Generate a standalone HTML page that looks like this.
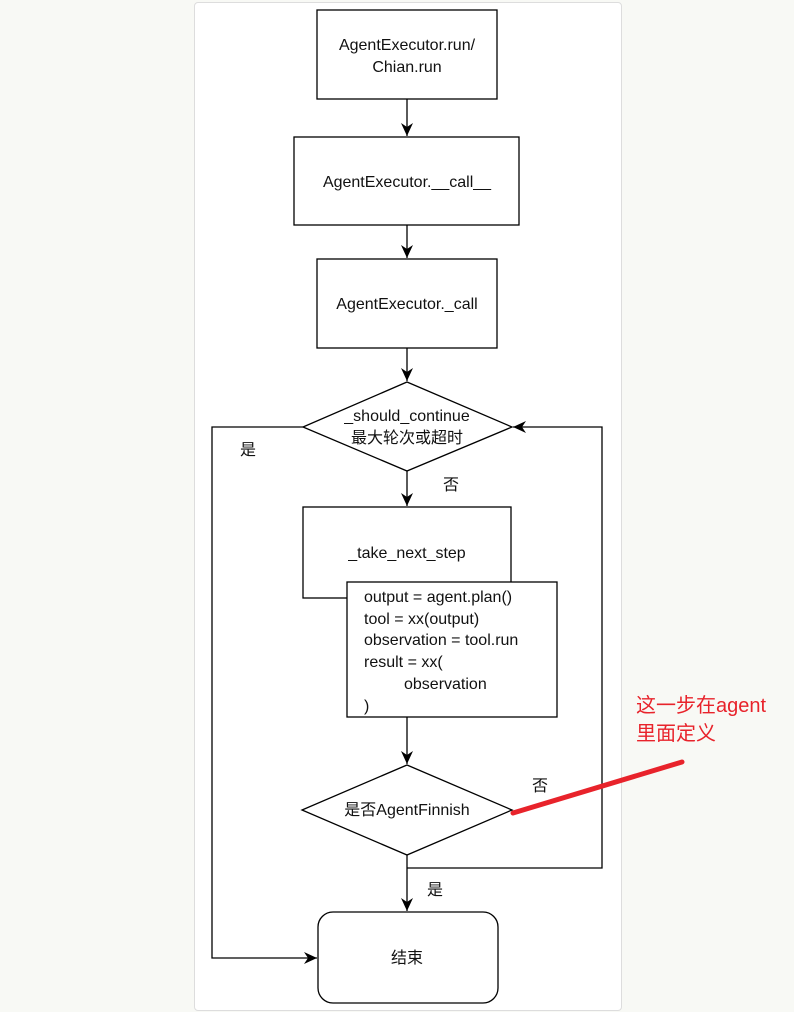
<!DOCTYPE html>
<html><head><meta charset="utf-8"><style>
body{margin:0;width:794px;height:1012px;background:#f8f9f5;overflow:hidden;font-family:"Liberation Sans","Noto Sans CJK SC",sans-serif;}
.card{position:absolute;left:194px;top:2px;width:426px;height:1007px;background:#fff;border:1px solid #ddd;border-radius:4px;}
svg{position:absolute;left:0;top:0}
</style></head><body>
<div class="card"></div>
<svg width="794" height="1012" font-family="Liberation Sans, Noto Sans CJK SC, sans-serif" font-size="16" fill="#111">
<defs><marker id="a" markerWidth="14" markerHeight="14" refX="13" refY="6" orient="auto" markerUnits="userSpaceOnUse"><path d="M0,0 L13,6 L0,12 L4,6z" fill="#000"/></marker></defs>
<g stroke="#000" stroke-width="1.3" fill="#fff">
<rect x="317" y="10" width="180" height="89"/>
<rect x="294" y="137" width="225" height="88"/>
<rect x="317" y="259" width="180" height="89"/>
<polygon points="407,382 512,427 407,471 303,427"/>
<rect x="303" y="507" width="208" height="91"/>
<rect x="347" y="582" width="210" height="135"/>
<polygon points="407,765 512,810 407,855 302,810"/>
<rect x="318" y="912" width="180" height="91" rx="15"/>
</g>
<g stroke="#000" stroke-width="1.3" fill="none" marker-end="url(#a)">
<line x1="407" y1="99" x2="407" y2="136"/>
<line x1="407" y1="225" x2="407" y2="258"/>
<line x1="407" y1="348" x2="407" y2="381"/>
<line x1="407" y1="471" x2="407" y2="506"/>
<line x1="407" y1="717" x2="407" y2="764"/>
<line x1="407" y1="855" x2="407" y2="911"/>
<polyline points="407,868 602,868 602,427 513,427"/>
<polyline points="303,427 212,427 212,958 317,958"/>
</g>
<g text-anchor="middle">
<text x="407" y="50">AgentExecutor.run/</text>
<text x="407" y="72">Chian.run</text>
<text x="407" y="187">AgentExecutor.__call__</text>
<text x="407" y="309">AgentExecutor._call</text>
<text x="407" y="421">_should_continue</text>
<text x="407" y="443">最大轮次或超时</text>
<text x="407" y="558">_take_next_step</text>
<text x="407" y="815">是否AgentFinnish</text>
<text x="407" y="963">结束</text>
</g>
<g>
<text x="364" y="602">output = agent.plan()</text>
<text x="364" y="624">tool = xx(output)</text>
<text x="364" y="645">observation = tool.run</text>
<text x="364" y="667">result = xx(</text>
<text x="404" y="689">observation</text>
<text x="364" y="711">)</text>
<text x="240" y="455">是</text>
<text x="443" y="490">否</text>
<text x="532" y="791">否</text>
<text x="427" y="895">是</text>
</g>
<line x1="513" y1="813" x2="682" y2="762" stroke="#e8232b" stroke-width="5" stroke-linecap="round"/>
<g fill="#e8232b" font-size="20"><text x="636" y="712">这一步在agent</text><text x="636" y="740">里面定义</text></g>
</svg>
</body></html>
